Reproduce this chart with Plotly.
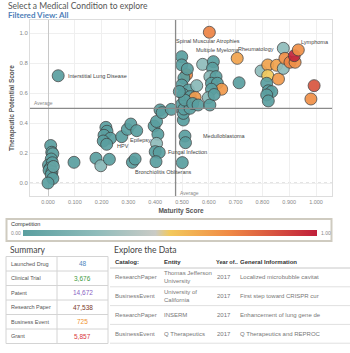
import plotly.graph_objects as go

# ---------------- data ----------------
maturity = [0.010, 0.014, 0.018, 0.012, 0.002, 0.016, 0.008, 0.004, 0.015, 0.012, 0.018, 0.000, 0.020,
            0.097, 0.179, 0.197, 0.229,
            0.216, 0.220, 0.209, 0.233, 0.206, 0.219,
            0.275, 0.296, 0.309, 0.331,
            0.315, 0.325,
            0.396, 0.405, 0.410, 0.405, 0.400, 0.415, 0.403, 0.418, 0.426, 0.460,
            0.505, 0.505, 0.499, 0.507, 0.530, 0.511, 0.513, 0.501,
            0.499, 0.499, 0.517, 0.507, 0.499, 0.524, 0.505, 0.531, 0.549, 0.555, 0.510, 0.540, 0.520, 0.490, 0.560,
            0.577, 0.617, 0.614, 0.604, 0.627, 0.610, 0.632, 0.648, 0.610, 0.598, 0.604, 0.620,
            0.602, 0.706, 0.713,
            0.795, 0.820, 0.853, 0.820, 0.816, 0.822, 0.835, 0.816, 0.822, 0.860, 0.878, 0.878,
            0.884, 0.903, 0.922, 0.919, 0.934, 0.993, 0.981, 0.038]
potential = [0.250, 0.205, 0.195, 0.160, 0.120, 0.135, 0.100, 0.085, 0.075, 0.055, 0.030, 0.000, 0.110,
             0.138, 0.165, 0.115, 0.158,
             0.371, 0.345, 0.318, 0.298, 0.280, 0.258,
             0.309, 0.358, 0.393, 0.349,
             0.138, 0.160,
             0.380, 0.410, 0.325, 0.264, 0.209, 0.204, 0.142, 0.487, 0.469, 0.491,
             0.420, 0.464, 0.525, 0.493, 0.498, 0.313, 0.269, 0.136,
             0.842, 0.787, 0.722, 0.700, 0.653, 0.620, 0.590, 0.576, 0.570, 0.649, 0.553, 0.530, 0.760, 0.610, 0.520,
             0.791, 0.809, 0.765, 0.709, 0.709, 0.665, 0.665, 0.625, 0.625, 0.569, 0.520, 0.590,
             1.005, 0.831, 0.668,
             0.747, 0.787, 0.785, 0.716, 0.665, 0.615, 0.609, 0.587, 0.547, 0.693, 0.764, 0.898,
             0.831, 0.805, 0.805, 0.849, 0.887, 0.649, 0.560, 0.715]
competition = [0.0, 0.0, 0.05, 0.0, 0.0, 0.0, 0.0, 0.0, 0.0, 0.0, 0.0, 0.0, 0.05,
               0.0, 0.0, 0.22, 0.0,
               0.0, 0.0, 0.0, 0.0, 0.0, 0.0,
               0.0, 0.0, 0.0, 0.0,
               0.0, 0.0,
               0.0, 0.0, 0.0, 0.25, 0.0, 0.0, 0.0, 0.0, 0.0, 0.0,
               0.0, 0.0, 0.0, 0.0, 0.0, 0.0, 0.0, 0.0,
               0.0, 0.0, 0.70, 0.0, 0.0, 0.0, 0.0, 0.0, 0.65, 0.22, 0.0, 0.0, 0.0, 0.0, 0.0,
               0.25, 0.0, 0.0, 0.22, 0.0, 0.0, 0.0, 0.65, 0.0, 0.22, 0.0, 0.0,
               0.72, 0.62, 0.0,
               0.25, 0.62, 0.62, 0.50, 0.0, 0.0, 0.0, 0.0, 0.0, 0.65, 0.25, 0.25,
               0.68, 0.72, 0.68, 0.98, 0.68, 0.85, 0.68, 0.0]

label_names = ["Interstitial Lung Disease", "Spinal Muscular Atrophies", "Multiple Myeloma", "Rheumatology",
               "Lymphoma", "HPV", "Epilepsy", "Bronchiolitis Obliterans", "Fungal Infection", "Medulloblastoma"]
label_x = [0.067, 0.598, 0.635, 0.850, 0.937, 0.250, 0.298, 0.316, 0.440, 0.571]
label_y = [0.715, 0.947, 0.887, 0.893, 0.938, 0.249, 0.290, 0.075, 0.205, 0.313]
label_anchor = ["left", "center", "center", "right", "left", "left", "left", "left", "left", "left"]

avg_maturity = 0.476
avg_potential = 0.498

x_ticks = [0.0, 0.1, 0.2, 0.3, 0.4, 0.5, 0.6, 0.7, 0.8, 0.9, 1.0]
y_ticks = [0.0, 0.2, 0.4, 0.6, 0.8, 1.0]

summary_labels = ["Launched Drug", "Clinical Trial", "Patent", "Research Paper", "Business Event", "Grant"]
summary_values = ["48", "3,676", "14,672", "47,538", "725", "5,857"]
summary_colors = ["#4e86c0", "#3f9a3f", "#8a5fc4", "#7a3a2c", "#f0932e", "#d9363e"]

explore_header = ["Catalog:", "Entity", "Year of..", "General Information"]
explore_catalog = ["ResearchPaper", "BusinessEvent", "ResearchPaper", "BusinessEvent"]
explore_entity = ["Thomas Jefferson<br>University", "University of<br>California", "INSERM", "Q Therapeutics"]
explore_year = ["2017", "2017", "2017", "2017"]
explore_info = ["Localized microbubble cavitat", "First step toward CRISPR cur",
                "Enhancement of lung gene de", "Q Therapeutics and REPROC"]

colorscale = [[0.0, "#5a9fa0"], [0.25, "#8fbcbb"], [0.45, "#cacbc6"], [0.5, "#f3c95c"],
              [0.7, "#f08a45"], [1.0, "#c01f3b"]]

W, H = 350, 353
def px(x):
    return x / W
def py(y):
    return 1 - y / H

FONT = "Liberation Sans, Arial, sans-serif"
TFONT = "Lato, sans-serif"

fig = go.Figure()

fig.add_trace(go.Scatter(
    x=maturity, y=potential, mode="markers",
    marker=dict(size=12, color=competition, cmin=0, cmax=1, colorscale=colorscale,
                opacity=0.92, line=dict(color="#3d3d3d", width=0.8),
                colorbar=dict(orientation="h", x=px(169.7), xanchor="center", y=py(233), yanchor="middle",
                              len=294, lenmode="pixels", thickness=6, showticklabels=False,
                              outlinewidth=0, xpad=0, ypad=0, ticks="")),
    showlegend=False, hoverinfo="skip"))

annotations = []
shapes = []

def ptext(x, y, text, size, color, anchor="left", family=FONT):
    annotations.append(dict(x=px(x), y=py(y), xref="paper", yref="paper", text=text, showarrow=False,
                            xanchor=anchor, yanchor="middle", align=anchor if anchor != "center" else "center",
                            font=dict(family=family, size=size, color=color)))

def pline(x0, y0, x1, y1, color, width=1):
    shapes.append(dict(type="line", xref="paper", yref="paper", x0=px(x0), y0=py(y0), x1=px(x1), y1=py(y1),
                       line=dict(color=color, width=width)))

for name, lx, ly, an in zip(label_names, label_x, label_y, label_anchor):
    annotations.append(dict(x=lx, y=ly, xref="x", yref="y", text=name, showarrow=False,
                            xanchor=an, yanchor="middle", font=dict(family=FONT, size=5.5, color="#444444")))
annotations += [
    dict(x=-0.061, y=avg_potential, xref="x", yref="y", text="Average", showarrow=False,
         xanchor="left", yanchor="bottom", font=dict(family=FONT, size=5, color="#888888")),
    dict(x=avg_maturity + 0.008, y=-0.065, xref="x", yref="y", text="Average", showarrow=False,
         xanchor="left", yanchor="middle", font=dict(family=FONT, size=5, color="#888888")),
]
ptext(6, 6, "Select a Medical Condition to explore", 8.5, "#555555", family=TFONT)
ptext(6, 15, "<b>Filtered View: All</b>", 8, "#4f80b8", family=TFONT)
ptext(9, 224, "Competition", 5.5, "#333333")
ptext(9, 233, "0.00", 5, "#888888")
ptext(319, 233, "1.00", 5, "#888888")
ptext(8, 250, "Summary", 8.5, "#444444", family=TFONT)
ptext(112, 250, "Explore the Data", 8.5, "#444444", family=TFONT)

# ---- summary table (grid drawn from the list lengths) ----
s_top, s_row = 256.5, 14.5
s_left, s_mid, s_right = 6, 57, 108
n_s = len(summary_labels)
for i in range(n_s + 1):
    pline(s_left, s_top + i * s_row, s_right, s_top + i * s_row, "#d4d4d4", 1)
for xx in (s_left, s_mid, s_right):
    pline(xx, s_top, xx, s_top + n_s * s_row, "#d4d4d4", 1)
for i, (lab, val, col) in enumerate(zip(summary_labels, summary_values, summary_colors)):
    yc = s_top + (i + 0.5) * s_row
    ptext(s_left + 3, yc, lab, 5.5, "#555555")
    ptext((s_mid + s_right) / 2, yc, val, 6.5, col, anchor="center")

# ---- explore table ----
col_x = [113, 162, 214, 238]
e_head_y = 261.5
pline(110, 268, 350, 268, "#c8c8c8", 1)
head_sizes = [6, 6, 5.6, 6]
for j, h in enumerate(explore_header):
    ptext(col_x[j], e_head_y, "<b>%s</b>" % h, head_sizes[j], "#333333")
e_top, e_row = 268, 18.8
for i in range(len(explore_catalog)):
    yc = e_top + (i + 0.5) * e_row
    pline(110, e_top + (i + 1) * e_row, 350, e_top + (i + 1) * e_row, "#e0e0e0", 1)
    ptext(col_x[0], yc, explore_catalog[i], 6, "#777777")
    ptext(col_x[1], yc, explore_entity[i], 6, "#777777")
    ptext(col_x[2] + 1, yc, explore_year[i], 6, "#777777")
    ptext(col_x[3], yc, explore_info[i], 6, "#777777")

shapes += [
    dict(type="line", xref="x", yref="y domain", x0=avg_maturity, x1=avg_maturity, y0=0, y1=1,
         line=dict(color="#8a8a8a", width=1.3), layer="above"),
    dict(type="line", xref="x domain", yref="y", x0=0, x1=1, y0=avg_potential, y1=avg_potential,
         line=dict(color="#8a8a8a", width=1.3), layer="above"),
    dict(type="line", xref="x domain", yref="y", x0=0, x1=1, y0=0, y1=0,
         line=dict(color="#c8c8c8", width=1, dash="dot"), layer="below"),
    dict(type="rect", xref="paper", yref="paper", x0=px(6.5), x1=px(331.5), y0=py(241), y1=py(219),
         line=dict(color="#cfcbc0", width=2)),
]

fig.update_layout(
    width=W, height=H, margin=dict(l=0, r=0, t=0, b=0),
    paper_bgcolor="white", plot_bgcolor="white",
    font=dict(family=FONT),
    xaxis=dict(domain=[px(30), px(332)], range=[-0.0672, 1.0597], tickvals=x_ticks, tickformat=".3f",
               tickfont=dict(size=5.5, color="#888888"), showgrid=True, gridcolor="#efefef",
               zeroline=True, zerolinecolor="#c8c8c8", zerolinewidth=1,
               showline=True, mirror=True, linecolor="#dddddd", linewidth=1, ticks="",
               title=dict(text="<b>Maturity Score</b>", font=dict(size=6.5, color="#555555"), standoff=4)),
    yaxis=dict(domain=[py(196), py(20)], range=[-0.0867, 1.0867], tickvals=y_ticks, tickformat=".1f",
               tickfont=dict(size=6, color="#888888"), showgrid=True, gridcolor="#efefef",
               zeroline=False, showline=True, mirror=True, linecolor="#dddddd", linewidth=1, ticks="",
               title=dict(text="<b>Therapeutic Potential Score</b>", font=dict(size=6.5, color="#555555"),
                          standoff=4)),
    annotations=annotations, shapes=shapes,
)

fig.write_html("out.html")
